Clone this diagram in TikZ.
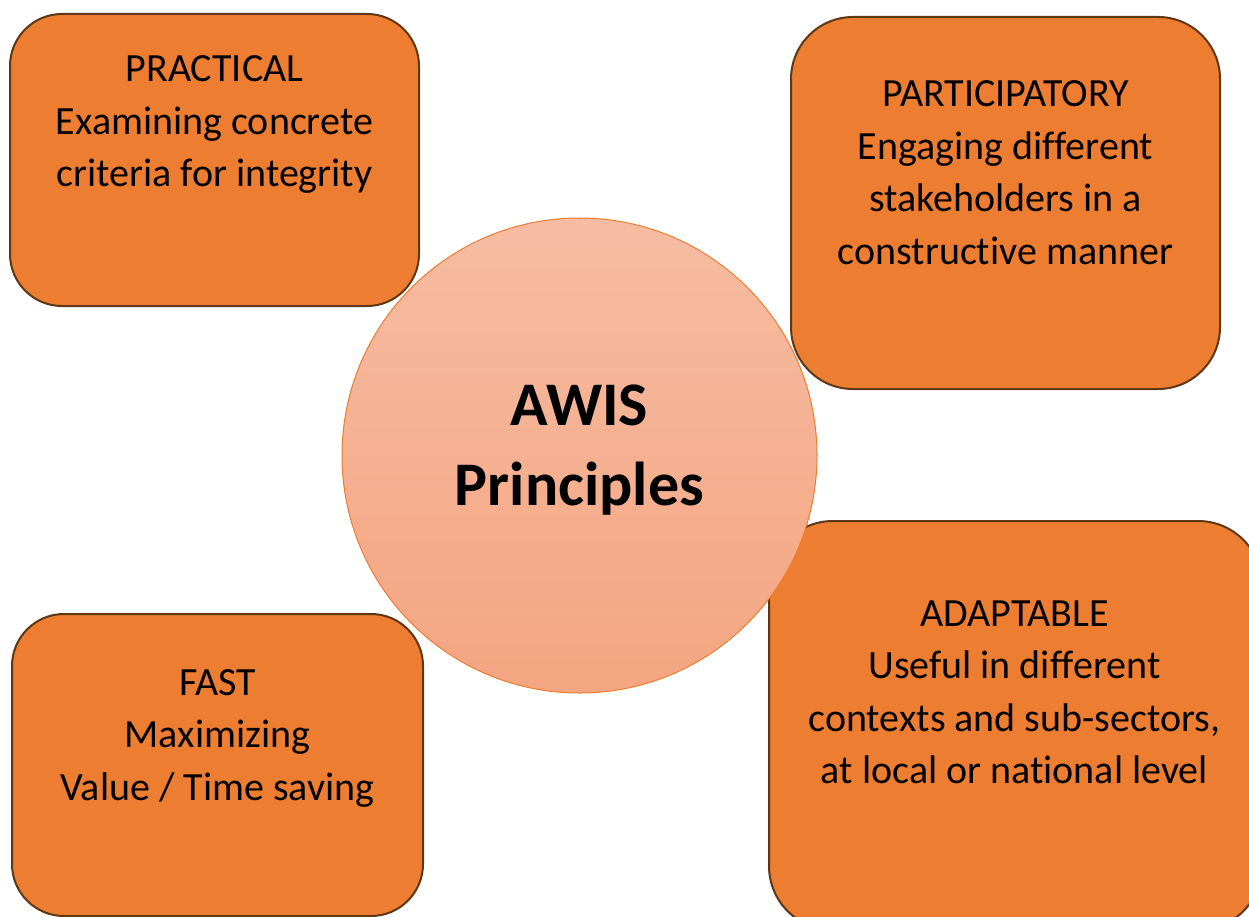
\documentclass[tikz,border=0pt]{standalone}
\usepackage{fontspec}
\setmainfont{Carlito}[Ligatures=NoCommon]
\definecolor{boxfill}{HTML}{ED7D31}
\definecolor{boxline}{HTML}{5E3815}
\definecolor{circtop}{HTML}{F6BCA2}
\definecolor{circbot}{HTML}{F4A581}
\definecolor{circline}{HTML}{ED7D31}
\begin{document}
\begin{tikzpicture}[x=1pt,y=-1pt,
  principle/.style={draw=boxline, fill=boxfill, line width=2pt, inner sep=0pt, rectangle},
  ptext/.style={align=center, inner sep=0pt, anchor=base, font=\fontsize{40}{52.5}\selectfont},
  hub/.style={circle, draw=circline, line width=1pt, top color=circtop, bottom color=circbot, minimum size=475pt, inner sep=0pt},
  hubtext/.style={align=center, inner sep=0pt, anchor=base, font=\fontsize{62}{80}\selectfont\bfseries}]
\clip (0,0) rectangle (1249,917);
\fill[white] (0,0) rectangle (1249,917);
\node[principle, rounded corners=52pt, minimum width=409pt, minimum height=292pt] (practical) at (214.5,160) {};
\node[principle, rounded corners=62pt, minimum width=429pt, minimum height=372pt] (particip) at (1005.5,203) {};
\node[principle, rounded corners=52pt, minimum width=411pt, minimum height=302pt] (fast) at (217.5,765) {};
\node[principle, rounded corners=64pt, minimum width=493pt, minimum height=409pt] (adapt) at (1015.5,725.5) {};
\node[hub] (hub) at (579.5,455.5) {};
\node[hubtext] (hubt) at (579.5,505) {AWIS\\Principles};
\node[ptext] (practicalt) at (214.5,187) {PRACTICAL\\Examining concrete\\criteria for integrity};
\node[ptext] (participt) at (1005.5,264.5) {PARTICIPATORY\\Engaging different\\stakeholders in a\\constructive manner};
\node[ptext] (fastt) at (217.5,800) {FAST\\Maximizing\\Value / Time saving};
\node[ptext] (adaptt) at (1014.5,783.5) {ADAPTABLE\\Useful in different\\contexts and sub-sectors,\\at local or national level};
\end{tikzpicture}
\end{document}
